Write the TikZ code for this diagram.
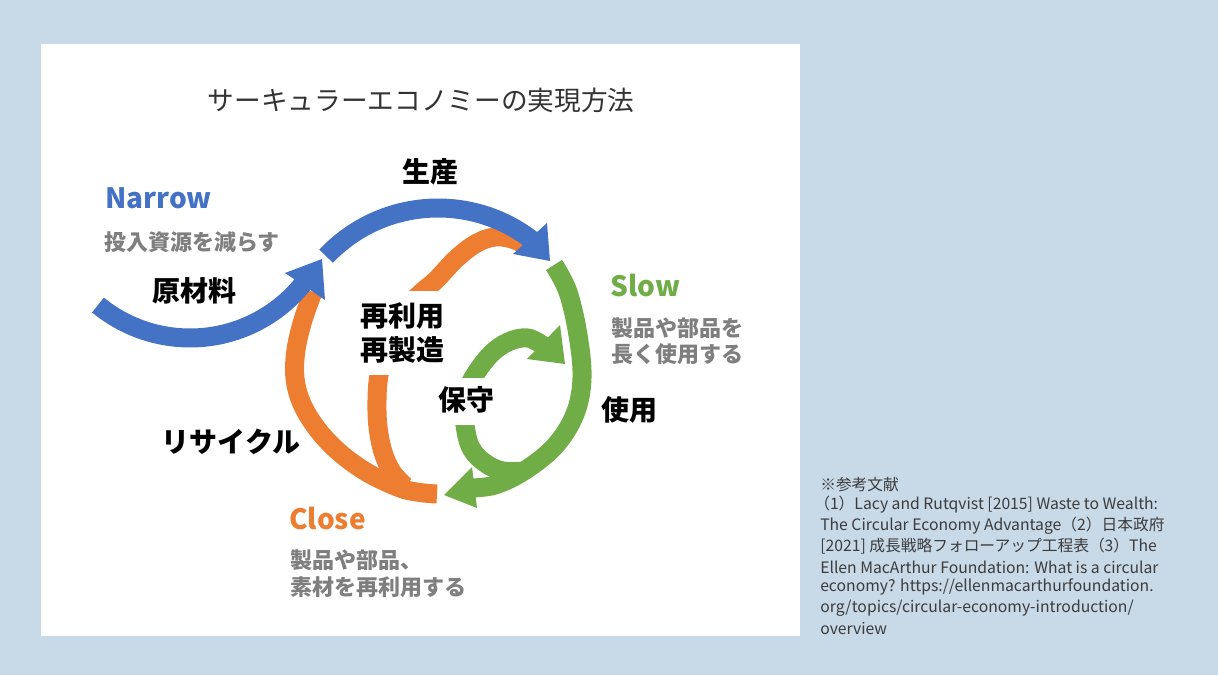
\documentclass[tikz,border=0pt]{standalone}
\usepackage{fontspec}
\setmainfont{Noto Sans CJK JP}
\usetikzlibrary{calc}
\definecolor{bgblue}{HTML}{C8D9E8}
\definecolor{oblue}{HTML}{4472C4}
\definecolor{oorange}{HTML}{ED7D31}
\definecolor{ogreen}{HTML}{70AD47}
\definecolor{ogray}{HTML}{7F7F7F}
\definecolor{tdark}{HTML}{333333}
\definecolor{rdark}{HTML}{3C3C3C}
\begin{document}
\begin{tikzpicture}[x=0.75pt,y=-0.75pt,
  band/.style={line width=14.25pt, line cap=butt, line join=round},
  lbl/.style={inner sep=0pt, text=black, font=\fontsize{21}{25}\selectfont\bfseries},
  head/.style={inner sep=0pt, font=\fontsize{21}{25}\selectfont\bfseries},
  sub/.style={inner sep=0pt, anchor=west, text=ogray, font=\fontsize{16.5}{20}\selectfont\bfseries},
  ref/.style={inner sep=0pt, anchor=west, text=rdark, font=\fontsize{11.8}{14}\selectfont},
  mask/.style={fill=white}]
\fill[bgblue] (0,0) rectangle (1218,675);
\useasboundingbox (0,0) rectangle (1218,675);
\fill[white] (41,44) rectangle (800,636);

% centres of the circular bands
\coordinate (cA) at (190,193);
\coordinate (cB) at (438,362);

% orange (under blue)
\draw[band, oorange] plot[smooth, tension=0.6] coordinates {(313,292) (303,320) (296,350) (295,378) (302,404) (318,430) (340,453) (368,473) (400,488) (420,492.5) (437,494)};
\draw[band, oorange] plot[smooth, tension=0.6] coordinates {(405,486) (392,472) (383,452) (378,427) (377,400) (379,375) (387,340) (402,312) (422,292) (436,280) (457,258) (477,243) (495,237) (512,239) (527,246)};

% green
\draw[band, ogreen] plot[smooth, tension=0.6] coordinates {(554,265) (568,292) (578,335) (582,378) (575,414) (555,446) (524,471) (495,485) (471,488)};
\fill[ogreen] (472,467) -- (444,495) -- (477,508) -- cycle;
\draw[band, ogreen] plot[smooth, tension=0.6] coordinates {(525,471) (503,471) (485,463) (471,448) (465,425) (464,400) (473,378) (490,355) (508,342) (528,338) (546,347.5)};
\fill[ogreen] (560,325) -- (565,364) -- (527,359) -- cycle;

% blue
\draw[band, oblue] ($(cA)+(129.4:145)$) arc[start angle=129.4, end angle=36, radius=145];
\fill[oblue] (285,273) -- (322,259) -- (325,300) -- cycle;
\draw[band, oblue] ($(cB)+(223.4:154)$) arc[start angle=223.4, end angle=308, radius=154];
\fill[oblue] (547,223) -- (550,261) -- (513,254) -- cycle;

% masks behind labels
\fill[mask] (355,291) rectangle (450,375);
\fill[mask] (428,378) rectangle (502,425);

% title
\node[inner sep=0pt, text=tdark, font=\fontsize{20}{24}\selectfont] (title) at (421,100) {サーキュラーエコノミーの実現方法};

% labels
\node[lbl] (seisan) at (430,172) {生産};
\node[lbl] (genzai) at (194,291) {原材料};
\node[lbl, anchor=west] (sairiyo) at (360,316) {再利用};
\node[lbl, anchor=west] (saiseizo) at (360,350) {再製造};
\node[lbl] (shiyo) at (629,410) {使用};
\node[lbl] (hoshu) at (466,400) {保守};
\node[lbl] (recycle) at (231,442) {リサイクル};

\node[head, anchor=west, text=oblue] (narrow) at (105,198) {Narrow};
\node[sub] (narrowsub) at (104,242.5) {投入資源を減らす};
\node[head, anchor=west, text=ogreen] (slow) at (610,286) {Slow};
\node[sub] (slowsub1) at (611,328) {製品や部品を};
\node[sub] (slowsub2) at (611,354) {長く使用する};
\node[head, anchor=west, text=oorange] (close) at (289,519) {Close};
\node[sub] (closesub1) at (290,560) {製品や部品、};
\node[sub] (closesub2) at (290,587) {素材を再利用する};

% references
\node[ref] (ref1) at (820,485) {※参考文献};
\node[ref] (ref2) at (814,505) {（1）Lacy and Rutqvist [2015] Waste to Wealth:};
\node[ref] (ref3) at (820,525.5) {The Circular Economy Advantage（2）日本政府};
\node[ref] (ref4) at (820,546) {[2021] 成長戦略フォローアップ工程表（3）The};
\node[ref] (ref5) at (820,567) {Ellen MacArthur Foundation: What is a circular};
\node[ref] (ref6) at (820,587) {economy? https://ellenmacarthurfoundation.};
\node[ref] (ref7) at (820,608) {org/topics/circular-economy-introduction/};
\node[ref] (ref8) at (820,628) {overview};
\end{tikzpicture}
\end{document}
